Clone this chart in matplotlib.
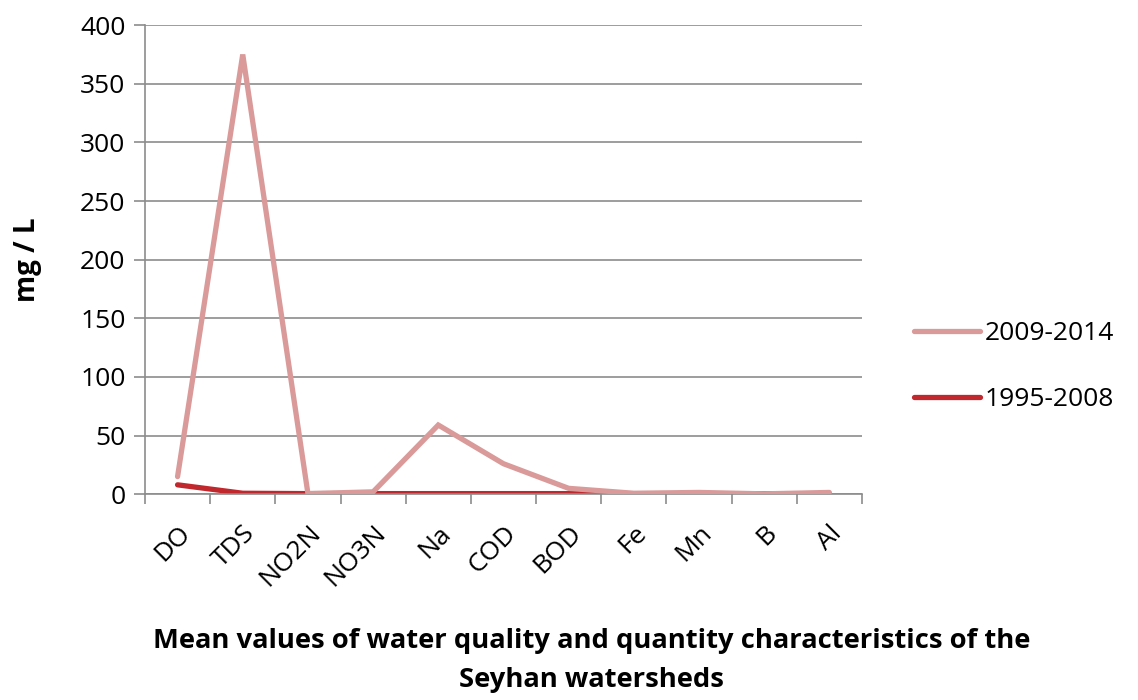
import numpy as np
import matplotlib.pyplot as plt

plt.rcParams['font.family'] = ['Open Sans', 'DejaVu Sans']

# 数据
categories = ['DO', 'TDS', 'NO2N', 'NO3N', 'Na', 'COD', 'BOD', 'Fe', 'Mn', 'B', 'Al']
values_2009_2014 = [15, 375, 0.5, 2, 59, 26, 5, 0.8, 1.5, 0.3, 1.5]
values_1995_2008 = [8, 0.8, 0.5, 0.5, 0.5, 0.5, 0.5, 0.3, 0.3, 0.3, 0.3]
y_ticks = [0, 50, 100, 150, 200, 250, 300, 350, 400]

fig = plt.figure(figsize=(11.38, 7.0), dpi=100)
ax = fig.add_axes([0.1274, 0.294, 0.630, 0.670])

x = np.arange(len(categories))
ax.plot(x, values_2009_2014, color='#D99A99', linewidth=3.8, label='2009-2014',
        solid_capstyle='round', solid_joinstyle='miter', zorder=3)
ax.plot(x, values_1995_2008, color='#C0282D', linewidth=3.8, label='1995-2008',
        solid_capstyle='round', zorder=2)

ax.set_xlim(-0.5, len(categories) - 0.5)
ax.set_ylim(0, 400)
ax.set_yticks(y_ticks)
ax.tick_params(axis='y', labelsize=19, length=8, color='#8c8c8c', width=1.2, pad=6)
ax.yaxis.grid(True, color='#8c8c8c', linewidth=1.2)
ax.set_axisbelow(True)

# x轴刻度在类别之间
ax.set_xticks(np.arange(-0.5, len(categories), 1))
ax.set_xticklabels([])
ax.set_xticks(x, minor=True)
ax.set_xticklabels(categories, minor=True, rotation=45, ha='right',
                   rotation_mode='anchor', fontsize=19)
ax.tick_params(axis='x', which='major', length=7, color='#8c8c8c', width=1.2)
ax.tick_params(axis='x', which='minor', length=0, pad=19)

for s in ['top', 'right']:
    ax.spines[s].set_visible(False)
for s in ['left', 'bottom']:
    ax.spines[s].set_color('#8c8c8c')
    ax.spines[s].set_linewidth(1.2)

ax.set_ylabel('mg / L', fontsize=20, fontweight='bold')
ax.yaxis.set_label_coords(-0.144, 0.5)

ax.legend(loc='center left', bbox_to_anchor=(1.04, 0.272), frameon=False,
          fontsize=19, handlelength=2.5, handletextpad=0.15, labelspacing=1.55)

fig.text(0.52, 0.057, 'Mean values of water quality and quantity characteristics of the\nSeyhan watersheds',
         ha='center', va='center', fontsize=19.7, fontweight='bold', linespacing=1.65)

plt.savefig('out.png', dpi=100, facecolor='white')
plt.close()
